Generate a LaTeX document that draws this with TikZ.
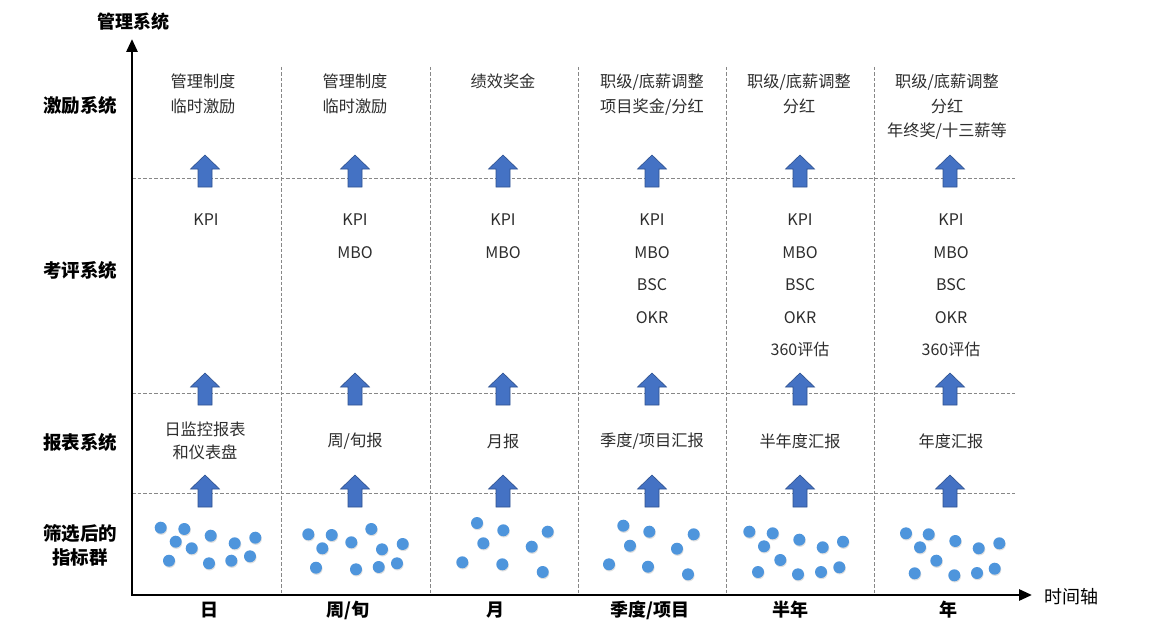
\documentclass[tikz,border=0pt]{standalone}
\usepackage{fontspec}
\setmainfont{Noto Sans CJK SC}
\usetikzlibrary{arrows.meta,shadows}

\definecolor{arrowblue}{RGB}{68,114,196}
\definecolor{arrowedge}{RGB}{47,82,143}
\definecolor{dotblue}{RGB}{78,149,220}
\definecolor{gridgray}{RGB}{135,135,135}
\definecolor{txtgray}{RGB}{45,45,45}

\tikzset{
  gridline/.style={gridgray, dash pattern=on 3.5pt off 2pt, line width=0.9pt},
  axisline/.style={line width=2.8pt, line join=miter,
    {Triangle[length=13pt,width=11pt]}-{Triangle[length=13pt,width=11pt]}},
  cell/.style={txtgray, font=\fontsize{16.2}{24.5}\selectfont, align=center, inner sep=0pt},
  listcell/.style={cell, font=\fontsize{16}{32.5}\selectfont},
  rowlab/.style={font=\fontsize{18.5}{24}\selectfont\bfseries, align=center, inner sep=0pt},
  timelab/.style={font=\fontsize{18}{22}\selectfont\bfseries, inner sep=0pt},
  dot/.style={fill=dotblue, drop shadow={opacity=0.25, shadow xshift=0.6pt, shadow yshift=-1.2pt}},
  uparrow/.pic={\draw[arrowedge, line width=0.6pt, fill=arrowblue]
    (-7,16) -- (-7,-2) -- (-14.5,-2) -- (0,-16) -- (14.5,-2) -- (7,-2) -- (7,16) -- cycle;}
}

\begin{document}
\begin{tikzpicture}[x=1pt,y=-1pt]
    \useasboundingbox (0,0) rectangle (1152,642);

    % grid
    \foreach \x in {281,430,578,726,874}
        \draw[gridline] (\x,67) -- (\x,595);
    \foreach \y in {178,393,493}
        \draw[gridline] (132,\y) -- (1015,\y);

    % axes
    \coordinate (O) at (132,595);
    \coordinate (ytip) at (132,39);
    \coordinate (xtip) at (1032,595);
    \draw[axisline] (ytip) |- (xtip);
    \node[font=\fontsize{18}{22}\selectfont\bfseries, inner sep=0pt] (ylab) at (133,22) {管理系统};
    \node[font=\fontsize{18}{22}\selectfont, inner sep=0pt] (xlab) at (1071,597) {时间轴};

    % row labels
    \node[rowlab] (lab-inc) at (80,105) {激励系统};
    \node[rowlab] (lab-eva) at (80,270) {考评系统};
    \node[rowlab] (lab-rep) at (80,442) {报表系统};
    \node[rowlab] (lab-ind) at (80,545) {筛选后的\\指标群};

    % time labels
    \node[timelab] (t1) at (209,610) {日};
    \node[timelab] (t2) at (348,610) {周/旬};
    \node[timelab] (t3) at (495,610) {月};
    \node[timelab] (t4) at (650,610) {季度/项目};
    \node[timelab] (t5) at (790,610) {半年};
    \node[timelab] (t6) at (948,610) {年};

    % incentive row
    \node[cell, anchor=north] (inc1) at (203,74) {管理制度\\临时激励};
    \node[cell, anchor=north] (inc2) at (355,74) {管理制度\\临时激励};
    \node[cell, anchor=north] (inc3) at (503,74) {绩效奖金};
    \node[cell, anchor=north] (inc4) at (652,74) {职级/底薪调整\\项目奖金/分红};
    \node[cell, anchor=north] (inc5) at (799,74) {职级/底薪调整\\分红};
    \node[cell, anchor=north] (inc6) at (947,74) {职级/底薪调整\\分红\\年终奖/十三薪等};

    % evaluation row
    \node[listcell, anchor=north] (eva1) at (206,214) {KPI};
    \node[listcell, anchor=north] (eva2) at (355,214) {KPI\\MBO};
    \node[listcell, anchor=north] (eva3) at (503,214) {KPI\\MBO};
    \node[listcell, anchor=north] (eva4) at (652,214) {KPI\\MBO\\BSC\\OKR};
    \node[listcell, anchor=north] (eva5) at (800,214) {KPI\\MBO\\BSC\\OKR\\360评估};
    \node[listcell, anchor=north] (eva6) at (951,214) {KPI\\MBO\\BSC\\OKR\\360评估};

    % report row
    \node[cell, font=\fontsize{16.2}{22.5}\selectfont] (rep1) at (205,441) {日监控报表\\和仪表盘};
    \node[cell] (rep2) at (355,441) {周/旬报};
    \node[cell] (rep3) at (503,441) {月报};
    \node[cell] (rep4) at (652,441) {季度/项目汇报};
    \node[cell] (rep5) at (800,441) {半年度汇报};
    \node[cell] (rep6) at (951,441) {年度汇报};

    % up arrows
    \foreach \x in {205,355,503,652,800,950} {
        \pic at (\x,171) {uparrow};
        \pic at (\x,389) {uparrow};
        \pic at (\x,491) {uparrow};
    }

    % indicator dots
    \foreach \x/\y in {160.7/527.7, 184.3/529, 175.7/541.7, 191.7/548.3, 210.7/535.7,
        169/560.7, 209/563.3, 234.7/543.3, 255.3/537.7, 231.3/560.7, 250/556.3,
        308.3/534.3, 331.7/535, 322.3/548.3, 351.3/542.3, 371.3/529, 382/549.3,
        402.7/544, 316/567.7, 356/569.3, 378.7/567, 397/563.3,
        477/523, 503.3/530.3, 483.3/543.3, 462.3/562.3, 502.3/564.3, 531.7/546.7,
        547.7/531.7, 542.7/572,
        623.3/525.7, 649.3/531.7, 630/545.7, 609/564.3, 648/566.7, 677/548.7,
        693.7/534.3, 688/574.3,
        749.3/531.7, 772.7/533.3, 764/546.3, 780.3/560, 799.3/539.7, 758/572,
        798/574.3, 822.7/547.3, 843/541.7, 821/572, 839.3/567.3,
        906/533.3, 928.7/534.3, 920/547.3, 936.3/560.7, 955.3/541, 914.7/573.3,
        954.3/575.3, 978.7/548.3, 999.3/543.3, 977/573, 994.7/568.7}
        \fill[dot] (\x,\y) circle (6pt);
\end{tikzpicture}
\end{document}
